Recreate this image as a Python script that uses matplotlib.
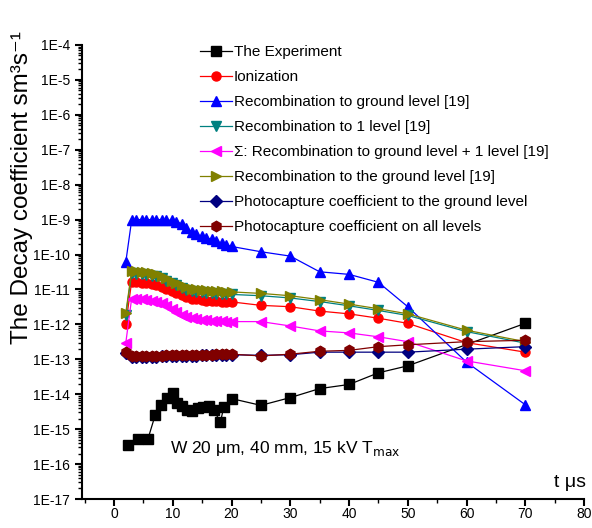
import numpy as np
import matplotlib
matplotlib.use('Agg')
import matplotlib.pyplot as plt
from matplotlib.ticker import LogLocator, FuncFormatter, MultipleLocator

plt.rcParams['font.family'] = ['Liberation Sans', 'DejaVu Sans']

# time grid for the computed coefficients (us)
t_calc = [2.0, 3.0, 3.8, 4.7, 5.5, 6.4, 7.2, 8.1, 8.9, 9.8, 10.6, 11.5,
          12.3, 13.2, 14.0, 14.9, 15.7, 16.6, 17.4, 18.3, 19.1, 20.0,
          25, 30, 35, 40, 45, 50, 60, 70]

# measured decay coefficient
t_exp = [2.3, 4.1, 5.8, 7.0, 8.0, 9.0, 10.0, 10.8, 11.6, 12.4, 13.3, 14.3,
         15.2, 16.1, 17.0, 18.1, 18.7, 20.0, 25, 30, 35, 40, 45, 50, 70]
experiment = [3.5e-16, 5.4e-16, 5.4e-16, 2.5e-15, 4.8e-15, 7.9e-15, 1.07e-14,
              5.5e-15, 4.5e-15, 3.6e-15, 3.4e-15, 4.0e-15, 4.3e-15, 4.6e-15,
              3.5e-15, 1.6e-15, 4.3e-15, 7.5e-15, 4.8e-15, 8.0e-15, 1.45e-14,
              1.9e-14, 4.1e-14, 6.5e-14, 1.07e-12]

ionization = [1.0e-12, 1.65e-11, 1.6e-11, 1.55e-11, 1.5e-11, 1.45e-11, 1.35e-11,
              1.2e-11, 1.05e-11, 9.0e-12, 7.8e-12, 6.8e-12, 6.0e-12, 5.5e-12,
              5.2e-12, 5.0e-12, 4.8e-12, 4.7e-12, 4.6e-12, 4.5e-12, 4.45e-12,
              4.4e-12, 3.5e-12, 3.2e-12, 2.4e-12, 2.0e-12, 1.5e-12, 1.07e-12,
              3.0e-13, 1.6e-13]

rec_ground = [6.0e-11, 9.5e-10, 1.0e-9, 1.0e-9, 1.0e-9, 1.0e-9, 1.0e-9, 1.0e-9,
              9.8e-10, 9.5e-10, 8.8e-10, 7.5e-10, 5.8e-10, 4.5e-10, 3.8e-10,
              3.3e-10, 3.0e-10, 2.7e-10, 2.4e-10, 2.1e-10, 1.9e-10, 1.7e-10,
              1.2e-10, 9.0e-11, 3.2e-11, 2.7e-11, 1.6e-11, 3.2e-12, 8.3e-14,
              5.0e-15]

rec_level1 = [1.8e-12, 2.9e-11, 2.8e-11, 2.7e-11, 2.6e-11, 2.5e-11, 2.35e-11,
              2.1e-11, 1.8e-11, 1.5e-11, 1.3e-11, 1.1e-11, 9.8e-12, 9.0e-12,
              8.5e-12, 8.2e-12, 8.0e-12, 7.8e-12, 7.6e-12, 7.5e-12, 7.3e-12,
              7.2e-12, 6.6e-12, 5.7e-12, 4.5e-12, 3.4e-12, 2.5e-12, 1.8e-12,
              6.2e-13, 2.9e-13]

rec_sum = [2.9e-13, 5.5e-12, 5.4e-12, 5.2e-12, 5.0e-12, 4.8e-12, 4.5e-12,
           4.0e-12, 3.4e-12, 2.8e-12, 2.3e-12, 1.9e-12, 1.65e-12, 1.5e-12,
           1.4e-12, 1.35e-12, 1.3e-12, 1.28e-12, 1.25e-12, 1.22e-12, 1.2e-12,
           1.2e-12, 1.2e-12, 9.0e-13, 6.5e-13, 5.7e-13, 4.4e-13, 3.2e-13,
           9.0e-14, 4.7e-14]

rec_the_ground = [2.1e-12, 3.4e-11, 3.3e-11, 3.2e-11, 3.1e-11, 3.0e-11, 2.8e-11,
                  2.5e-11, 2.1e-11, 1.8e-11, 1.5e-11, 1.3e-11, 1.15e-11, 1.05e-11,
                  1.0e-11, 9.7e-12, 9.4e-12, 9.2e-12, 9.0e-12, 8.8e-12, 8.6e-12,
                  8.5e-12, 7.7e-12, 6.6e-12, 5.1e-12, 3.8e-12, 2.8e-12, 2.0e-12,
                  6.8e-13, 3.2e-13]

photo_ground = [1.5e-13, 1.2e-13, 1.2e-13, 1.2e-13, 1.2e-13, 1.2e-13, 1.2e-13,
                1.22e-13, 1.22e-13, 1.23e-13, 1.24e-13, 1.25e-13, 1.26e-13,
                1.27e-13, 1.28e-13, 1.29e-13, 1.3e-13, 1.31e-13, 1.32e-13,
                1.33e-13, 1.34e-13, 1.35e-13, 1.3e-13, 1.35e-13, 1.6e-13,
                1.6e-13, 1.6e-13, 1.6e-13, 1.95e-13, 2.3e-13]

photo_all = [1.6e-13, 1.25e-13, 1.25e-13, 1.25e-13, 1.25e-13, 1.26e-13, 1.27e-13,
             1.28e-13, 1.29e-13, 1.3e-13, 1.3e-13, 1.31e-13, 1.32e-13, 1.33e-13,
             1.34e-13, 1.35e-13, 1.36e-13, 1.37e-13, 1.38e-13, 1.39e-13,
             1.4e-13, 1.4e-13, 1.25e-13, 1.4e-13, 1.7e-13, 1.8e-13, 2.3e-13,
             2.6e-13, 3.2e-13, 3.5e-13]

fig = plt.figure(figsize=(5.92, 5.28), dpi=100)
ax = fig.add_axes([0.1385, 0.0549, 0.848, 0.86])

ms = 6.5
ax.plot(t_exp, experiment, '-s', color='black', ms=ms, lw=0.9, label='The Experiment')
ax.plot(t_calc, ionization, '-o', color='#FF0000', ms=ms, lw=0.9, label='Ionization')
ax.plot(t_calc, rec_ground, '-^', color='#0000FF', ms=ms + 1, lw=0.9,
        label='Recombination to ground level [19]')
ax.plot(t_calc, rec_level1, '-v', color='#008080', ms=ms + 1, lw=0.9,
        label='Recombination to 1 level [19]')
ax.plot(t_calc, rec_sum, '-<', color='#FF00FF', ms=ms + 1, lw=0.9,
        label='\u03a3: Recombination to ground level + 1 level [19]')
ax.plot(t_calc, rec_the_ground, '->', color='#808000', ms=ms + 1, lw=0.9,
        label='Recombination to the ground level [19]')
ax.plot(t_calc, photo_ground, '-D', color='#000080', ms=ms - 0.5, lw=0.9,
        label='Photocapture coefficient to the ground level')
ax.plot(t_calc, photo_all, '-h', color='#800000', ms=ms + 1, lw=0.9,
        label='Photocapture coefficient on all levels')

ax.set_yscale('log')
ax.set_ylim(1e-17, 1e-4)
ax.set_xlim(-5.45, 80)

ax.yaxis.set_major_locator(LogLocator(base=10, numticks=20))
ax.yaxis.set_minor_locator(LogLocator(base=10, subs=np.arange(2, 10), numticks=200))
ax.yaxis.set_major_formatter(FuncFormatter(lambda v, _: '1E%d' % round(np.log10(v))))
ax.xaxis.set_major_locator(MultipleLocator(10))
ax.xaxis.set_minor_locator(MultipleLocator(5))

ax.spines['top'].set_visible(False)
ax.spines['right'].set_visible(False)
ax.spines['left'].set_linewidth(1.5)
ax.spines['bottom'].set_linewidth(1.5)
ax.tick_params(which='major', direction='out', length=5, width=1.5, labelsize=10)
ax.tick_params(axis='x', which='major', pad=0.8)
ax.tick_params(which='minor', direction='out', length=3, width=1)

ax.set_ylabel('The Decay coefficient sm\u00b3s\u207b\u00b9', fontsize=17.5)
ax.yaxis.set_label_coords(-0.097, 0.685)
ax.text(77.7, 3e-17, 't \u03bcs', fontsize=14, ha='center', va='center')
ax.text(9.5, 2.8e-16, 'W 20 \u03bcm, 40 mm, 15 kV T$_{\\rm max}$', fontsize=12.5,
        ha='left', va='center')

ax.legend(loc='upper left', bbox_to_anchor=(0.235, 1.0), frameon=False,
          fontsize=11, handlelength=2.1, handletextpad=0.1, labelspacing=0.72,
          borderaxespad=0.0, borderpad=0.0)

fig.savefig('out.png', dpi=100)
